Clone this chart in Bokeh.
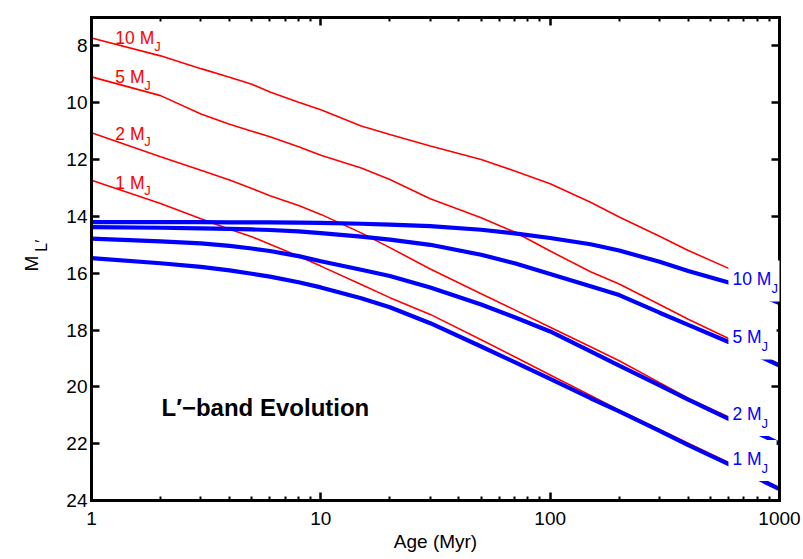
from math import pi
from bokeh.plotting import figure
from bokeh.layouts import row
from bokeh.models import Range1d, FixedTicker, LinearAxis, LogAxis, Label
from bokeh.embed import file_html
from bokeh.resources import INLINE

# ---------------- data ----------------
age_myr = [1, 2, 3, 4, 5, 6, 8, 10, 15, 20, 30, 50, 70, 100, 150, 200, 300, 400, 600, 1000]
masses = ["10", "5", "2", "1"]

# thin red curves, M_L'
red_10 = [7.72, 8.35, 8.80, 9.10, 9.35, 9.62, 9.98, 10.25, 10.82, 11.12, 11.52, 12.00, 12.40, 12.85, 13.50, 14.02, 14.70, 15.20, 15.83, 16.70]
red_5 = [9.09, 9.75, 10.40, 10.76, 11.00, 11.20, 11.55, 11.85, 12.30, 12.70, 13.38, 14.05, 14.55, 15.22, 15.95, 16.38, 17.10, 17.62, 18.30, 19.20]
red_2 = [11.06, 11.90, 12.38, 12.72, 13.02, 13.27, 13.62, 13.93, 14.58, 15.10, 15.85, 16.72, 17.29, 17.90, 18.59, 19.08, 19.85, 20.40, 21.06, 21.98]
red_1 = [12.73, 13.55, 14.08, 14.45, 14.72, 14.98, 15.40, 15.75, 16.40, 16.86, 17.45, 18.34, 18.94, 19.58, 20.30, 20.82, 21.50, 21.98, 22.66, 23.55]

# thick blue curves, M_L'
blue_10 = [14.20, 14.20, 14.20, 14.21, 14.21, 14.21, 14.22, 14.23, 14.26, 14.29, 14.34, 14.47, 14.60, 14.76, 14.98, 15.20, 15.60, 15.92, 16.33, 17.05]
blue_5 = [14.38, 14.40, 14.42, 14.44, 14.46, 14.48, 14.53, 14.59, 14.71, 14.82, 15.00, 15.35, 15.65, 16.03, 16.46, 16.77, 17.39, 17.82, 18.42, 19.25]
blue_2 = [14.78, 14.88, 14.95, 15.04, 15.13, 15.22, 15.40, 15.58, 15.88, 16.10, 16.50, 17.10, 17.55, 18.05, 18.75, 19.25, 19.95, 20.45, 21.13, 22.00]
blue_1 = [15.47, 15.65, 15.78, 15.90, 16.02, 16.12, 16.32, 16.50, 16.88, 17.20, 17.76, 18.58, 19.13, 19.72, 20.40, 20.86, 21.55, 22.05, 22.72, 23.60]

red_curves = [red_10, red_5, red_2, red_1]
blue_curves = [blue_10, blue_5, blue_2, blue_1]

x_ticks = [1, 10, 100, 1000]
x_tick_labels = ["1", "10", "100", "1000"]
x_minor_ticks = [m * d for d in (1, 10, 100) for m in range(2, 10)]
y_ticks = [8, 10, 12, 14, 16, 18, 20, 22, 24]
y_tick_labels = ["8", "10", "12", "14", "16", "18", "20", "22", "24"]

# label anchor positions (data coordinates)
left_label_x = 1.27
left_label_y = [7.90, 9.28, 11.26, 12.99]
right_label_x = 636
right_label_y = [16.45, 18.49, 21.18, 22.77]

FONT = "Liberation Sans"
RED = "#ff0000"
BLUE = "#0000ff"

TITLE_W = 52          # narrow strip that carries the rotated y-axis title
TOTAL_W, TOTAL_H = 803, 559

# ---------------- y-axis title strip (M_L') ----------------
ylab = figure(width=TITLE_W, height=TOTAL_H, x_range=Range1d(0, TITLE_W),
              y_range=Range1d(TOTAL_H, 0), output_backend="svg", toolbar_location=None,
              x_axis_location=None, y_axis_location=None,
              min_border=0, min_border_left=0, min_border_right=0,
              min_border_top=0, min_border_bottom=0)
ylab.grid.visible = False
ylab.outline_line_color = None
ylab.background_fill_color = "white"
ylab.border_fill_color = "white"
ylab.add_layout(Label(x=31, y=294, text="M", angle=pi / 2, text_font=FONT,
                      text_font_size="19px", text_color="black",
                      text_align="left", text_baseline="alphabetic"))
ylab.add_layout(Label(x=41, y=271, text="L\u2032", angle=pi / 2, text_font=FONT,
                      text_font_size="16px", text_color="black",
                      text_align="left", text_baseline="alphabetic"))

# ---------------- main plot ----------------
p = figure(width=TOTAL_W - TITLE_W, height=TOTAL_H, x_axis_type="log",
           x_range=Range1d(1, 1000), y_range=Range1d(24, 7),
           output_backend="svg", toolbar_location=None,
           min_border_left=91 - TITLE_W, min_border_right=24,
           min_border_top=17, min_border_bottom=59)
p.grid.visible = False
p.outline_line_color = None
p.background_fill_color = "white"
p.border_fill_color = "white"

for rc in red_curves:
    p.line(age_myr, rc, line_color=RED, line_width=1.6)
for bc in blue_curves:
    p.line(age_myr, bc, line_color=BLUE, line_width=4.2)


def style_axis(ax, show_labels):
    ax.axis_line_width = 3
    ax.axis_line_color = "black"
    ax.axis_line_cap = "square"
    ax.major_tick_in = 8
    ax.major_tick_out = 0
    ax.major_tick_line_width = 2.5
    ax.minor_tick_in = 4
    ax.minor_tick_out = 0
    ax.minor_tick_line_width = 2
    ax.major_label_text_font = FONT
    if show_labels:
        ax.major_label_text_color = "black"
        ax.major_label_text_font_size = "19px"
    else:
        ax.major_label_text_color = None
        ax.major_label_text_font_size = "1px"


xa = p.xaxis[0]
xa.ticker = FixedTicker(ticks=x_ticks, minor_ticks=x_minor_ticks)
xa.major_label_overrides = {t: s for t, s in zip(x_ticks, x_tick_labels)}
style_axis(xa, True)
xa.major_label_standoff = 11
xa.axis_label = "Age (Myr)"
xa.axis_label_text_font = FONT
xa.axis_label_text_font_style = "normal"
xa.axis_label_text_font_size = "19px"
xa.axis_label_text_color = "black"
xa.axis_label_standoff = 3

ya = p.yaxis[0]
ya.ticker = FixedTicker(ticks=y_ticks, minor_ticks=[])
ya.major_label_overrides = {t: s for t, s in zip(y_ticks, y_tick_labels)}
style_axis(ya, True)
ya.major_label_standoff = 4

top = LogAxis(ticker=FixedTicker(ticks=x_ticks, minor_ticks=x_minor_ticks))
style_axis(top, False)
top.major_label_standoff = 0
p.add_layout(top, "above")

right = LinearAxis(ticker=FixedTicker(ticks=y_ticks, minor_ticks=[]))
style_axis(right, False)
right.major_label_standoff = 0
p.add_layout(right, "right")

# panel title
p.add_layout(Label(x=2.02, y=20.97, y_offset=7, text="L\u2032\u2212band Evolution",
                   text_font=FONT, text_font_size="24px", text_font_style="bold",
                   text_color="black", text_align="left", text_baseline="alphabetic"))

PAD = dict(left=4, right=15, top=9, bottom=12)


def mass_label(x, y, mass, color, box):
    kw = dict(x=x, y=y, text=f"{mass} M", text_color=color, text_font=FONT,
              text_font_size="17.5px", text_align="left", text_baseline="alphabetic",
              y_offset=5)
    width = 39 if len(mass) == 2 else 29
    if box:
        kw.update(background_fill_color="white", padding=PAD, x_offset=-6)
        jx = width - 2
    else:
        jx = width
    p.add_layout(Label(**kw))
    p.add_layout(Label(x=x, y=y, x_offset=jx, y_offset=-3, text="J", text_color=color,
                       text_font=FONT, text_font_size="13px", text_align="left",
                       text_baseline="alphabetic"))


for m, ly in zip(masses, left_label_y):
    mass_label(left_label_x, ly, m, RED, False)
for m, ry in zip(masses, right_label_y):
    mass_label(right_label_x, ry, m, BLUE, True)

layout = row(ylab, p)
open("out.html", "w").write(file_html(layout, INLINE))
